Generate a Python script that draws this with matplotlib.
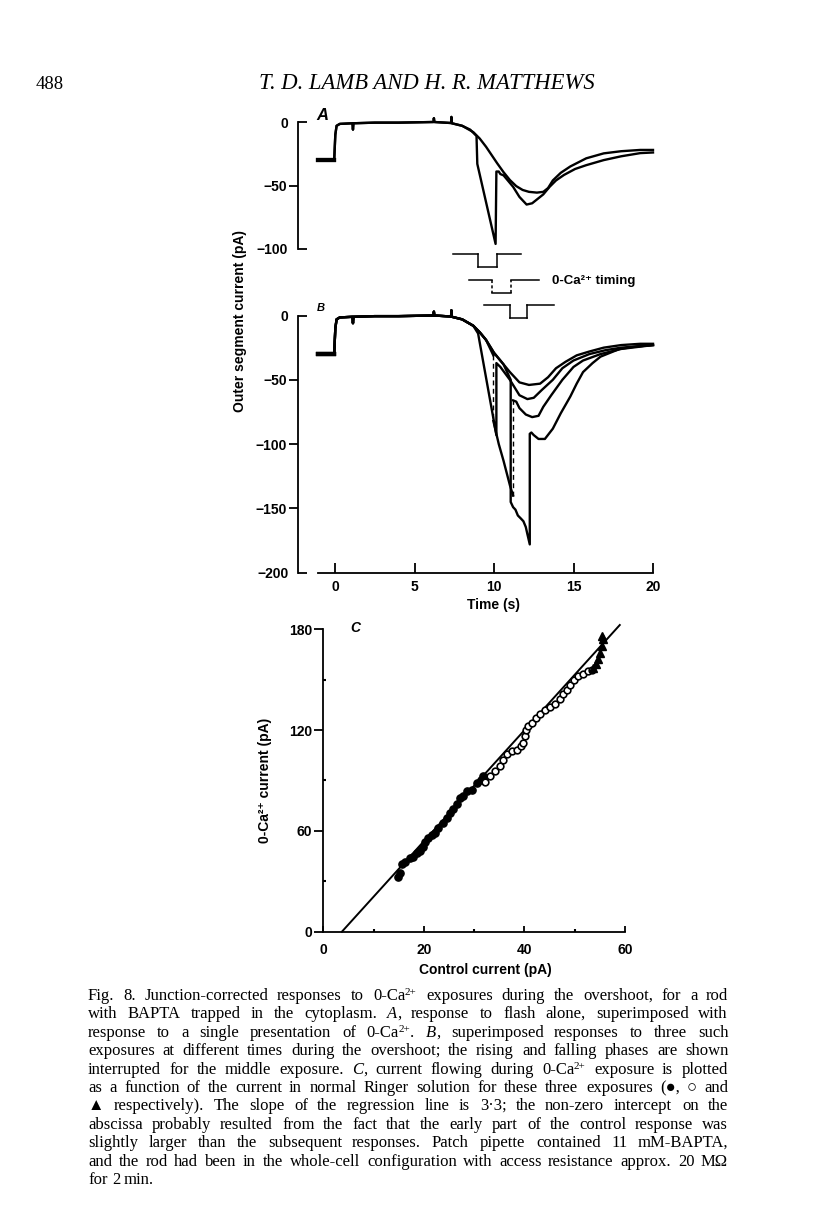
import re
import matplotlib
matplotlib.use("Agg")
import matplotlib.pyplot as plt
from matplotlib.ticker import FixedLocator, FuncFormatter

W, H, DPI = 816, 1219, 100

# ---------------- data ----------------
# common start of every trace in A and B (time s, current pA)
base_t = [-1.1, -0.05, 0.02, 0.1, 0.3, 1.1, 1.13, 1.16, 2.5, 4.0, 6.2, 6.22, 6.25, 7.3, 7.32, 7.35, 8.0]
base_i = [-30, -30, -10, -3, -1.5, -1, -6, -1, -0.5, -0.5, 0, 3, 0, -0.8, 4, -1, -3]

# panel A: flash alone (control) and flash + one 0-Ca exposure
ctrl_a_t = [8.7, 9.1, 9.5, 10.2, 10.6, 11.0, 11.4, 11.8, 12.2, 12.7, 13.1, 13.4, 13.7, 14.2, 14.8, 15.8, 16.9, 18.0, 19.2, 20.0]
ctrl_a_i = [-8, -13, -19.5, -32.5, -39.5, -45.7, -50.5, -53.5, -55, -55.6, -55, -52, -46, -40, -35, -28.6, -24.7, -23, -22, -22]
exp_a_t = [8.5, 8.9, 8.95, 10.1, 10.15, 10.3, 10.4, 10.6, 11.2, 11.6, 12.05, 12.4, 12.7, 13.1, 13.5, 13.9, 14.4, 15.1, 15.8, 16.9, 18.0, 19.2, 20.0]
exp_a_i = [-6, -11, -33, -96, -39, -39, -41, -42, -51, -59, -65, -64, -61, -57, -51, -46, -41.7, -37, -34, -30, -27, -24.5, -24]

# panel B: control plus three exposures
ctrl_b_t = [8.7, 9.1, 9.5, 10.0, 10.6, 11.0, 11.6, 12.2, 12.9, 13.4, 13.9, 14.5, 15.2, 16.0, 16.9, 18.0, 19.2, 20.0]
ctrl_b_i = [-8, -13, -19, -29, -38, -44, -52, -54, -53, -48, -41, -36, -31, -28, -25, -23, -22, -22]
exp1_b_t = [8.7, 9.0, 10.15, 10.15, 10.4, 11.0, 11.6, 12.1, 12.5, 13.0, 13.7, 14.3, 15.0, 16.0, 17.0, 18.0, 20.0]
exp1_b_i = [-8, -14, -93, -37, -40, -50, -62, -65, -64, -58, -50, -41, -35, -30, -27, -25, -23]
exp2_b_t = [8.7, 9.1, 9.5, 9.96, 9.96, 10.3, 10.6, 11.0, 11.2, 11.2, 11.4, 11.6, 12.0, 12.4, 12.8, 13.1, 13.6, 14.3, 15.0, 15.6, 16.7, 18.0, 20.0]
exp2_b_i = [-8, -13, -19, -31, -82, -100, -113, -132, -140, -66, -67, -72, -77, -79, -78, -71, -62, -50, -40, -35, -30, -26, -23]
exp3_b_t = [8.7, 9.1, 9.5, 10.0, 10.6, 11.05, 11.05, 11.2, 11.35, 11.5, 11.7, 11.85, 12.0, 12.1, 12.25, 12.25,
            12.35, 12.5, 12.8, 13.2, 13.7, 14.2, 14.8, 15.2, 15.6, 16.2, 16.7, 17.9, 19.0, 20.0]
exp3_b_i = [-8, -13, -19, -29, -38, -50, -145, -149, -151, -155.5, -158, -160, -164.5, -170, -178, -92,
            -91, -93, -96, -96, -88, -76, -63, -53, -44, -37, -32, -26, -24, -23]
dashed_jumps = [9.96, 11.2]  # middle exposure: rising/falling phases interrupted

# 0-Ca timing bars (s)
pulse_start = [7.4, 8.4, 9.4]
pulse_on = [9.0, 9.9, 11.0]
pulse_off = [10.2, 11.1, 12.1]
pulse_end = [11.7, 12.8, 13.8]

# panel C: 0-Ca current vs control current (pA)
filled_x = [14.95, 15.3, 15.6, 16.3, 17.3, 17.9, 18.6, 19.3, 19.8, 20.3, 20.9, 21.6, 22.3, 22.9, 23.9, 24.6,
            25.2, 25.9, 26.6, 27.2, 27.9, 28.5, 29.5, 30.5, 31.3, 31.8]
filled_y = [32.7, 34.7, 40.3, 41.7, 43.7, 44.7, 46.7, 48.3, 50.3, 53.6, 56, 57.6, 59, 61.6, 64.6, 67.6,
            70.6, 73.2, 75.9, 79.5, 80.5, 83.5, 84.5, 88.5, 90, 92.5]
open_x = [32.2, 33.2, 34.2, 35.2, 35.8, 36.5, 37.5, 38.5, 39.3, 39.8, 40.1, 40.3, 40.8, 41.5, 42.3, 43.1,
          44.1, 45.1, 46.1, 47.1, 47.8, 48.4, 49.1, 49.8, 50.7, 51.7, 52.7, 53.4]
open_y = [89, 92.5, 95.4, 98.4, 102.4, 106, 107.4, 108.3, 110.3, 112.3, 116.3, 119.8, 122.2, 124.2, 127.2, 129.8,
          132.2, 133.8, 135.2, 138.2, 141.2, 143.7, 146.5, 149.7, 152, 153.6, 155, 156]
tri_x = [53.7, 54.3, 54.7, 55.1, 55.4, 55.6, 55.4]
tri_y = [157, 159, 162, 166, 170, 174, 176]
reg_slope, reg_x0, reg_x1 = 3.3, 3.7, 59.0

# *...* italic, ^...^ superscript
caption = [
    "Fig. 8. Junction-corrected responses to 0-Ca^2+^ exposures during the overshoot, for a rod",
    "with BAPTA trapped in the cytoplasm. *A*, response to flash alone, superimposed with",
    "response to a single presentation of 0-Ca^2+^. *B*, superimposed responses to three such",
    "exposures at different times during the overshoot; the rising and falling phases are shown",
    "interrupted for the middle exposure. *C*, current flowing during 0-Ca^2+^ exposure is plotted",
    "as a function of the current in normal Ringer solution for these three exposures (●, ○ and",
    "▲ respectively). The slope of the regression line is 3·3; the non-zero intercept on the",
    "abscissa probably resulted from the fact that the early part of the control response was",
    "slightly larger than the subsequent responses. Patch pipette contained 11 mM-BAPTA,",
    "and the rod had been in the whole-cell configuration with access resistance approx. 20 MΩ",
    "for 2 min.",
]

# ---------------- layout helpers (pixel geometry) ----------------
plt.rcParams["font.family"] = ["Liberation Sans", "DejaVu Sans"]
SERIF = "Liberation Serif"
T0_PX, PX_PER_S = 335.0, 15.9


def px_axes(fig, left, top, right, bottom):
    return fig.add_axes([left / W, 1 - bottom / H, (right - left) / W, (bottom - top) / H])


def tlim(left, right):
    return ((left - T0_PX) / PX_PER_S, (right - T0_PX) / PX_PER_S)


def minus(v, pos=None):
    return f"{v:.0f}".replace("-", "\u2212")


def trace_axes(ax, zero_px, px_per_pa, top, bottom, ymin, mid_ticks, end_ticks):
    ax.set_xlim(*tlim(298, 660))
    ax.set_ylim(-(bottom - zero_px) / px_per_pa, (zero_px - top) / px_per_pa)
    for s in ["top", "right", "bottom"]:
        ax.spines[s].set_visible(False)
    ax.spines["left"].set_bounds(ymin, 0)
    ax.spines["left"].set_linewidth(1.3)
    ax.yaxis.set_major_locator(FixedLocator(mid_ticks))
    ax.yaxis.set_minor_locator(FixedLocator(end_ticks))
    ax.yaxis.set_major_formatter(FuncFormatter(minus))
    ax.yaxis.set_minor_formatter(FuncFormatter(minus))
    ax.tick_params(axis="y", which="major", direction="out", length=6.5, width=1.3, pad=1.5,
                   labelsize=10)
    ax.tick_params(axis="y", which="minor", direction="in", length=6.5, width=1.3, pad=7,
                   labelsize=10)
    for lab in ax.get_yticklabels(which="both"):
        lab.set_fontweight("bold")
    ax.set_xticks([])
    ax.patch.set_visible(False)


def plot_trace(ax, t, i, lw=1.7, dashed=()):
    xs, ys = list(base_t) + list(t), list(base_i) + list(i)
    sx, sy = [xs[0]], [ys[0]]
    for k in range(1, len(xs)):
        if xs[k] == xs[k - 1] and xs[k] in dashed:
            ax.plot([xs[k - 1], xs[k]], [ys[k - 1], ys[k]], color="black", lw=1.0, ls=(0, (3.5, 2.5)))
            sx.append(float("nan"))
            sy.append(float("nan"))
        sx.append(xs[k])
        sy.append(ys[k])
    ax.plot(sx, sy, color="black", lw=lw, solid_joinstyle="round")
    # the noisy dark-current baseline before the flash reads as a heavier line
    ax.plot(base_t[:2], base_i[:2], color="black", lw=3.0)


fig = plt.figure(figsize=(W / DPI, H / DPI), dpi=DPI)

# ---------------- panel A ----------------
ax_a = px_axes(fig, 298, 105, 660, 255)
trace_axes(ax_a, 122, 1.27, 105, 255, -100, [-50], [0, -100])
plot_trace(ax_a, ctrl_a_t, ctrl_a_i)
plot_trace(ax_a, exp_a_t, exp_a_i)
fig.text(316 / W, 1 - 120 / H, "A", fontsize=12, fontweight="bold", style="italic")

# ---------------- timing bars ----------------
ax_tm = px_axes(fig, 298, 245, 660, 325)
ax_tm.set_xlim(*tlim(298, 660))
ax_tm.set_ylim(80, 0)
ax_tm.axis("off")
row_hi = [9, 35, 60]
for k in range(3):
    hi, lo = row_hi[k], row_hi[k] + 13
    ls = (0, (2, 1.5)) if k == 1 else "-"
    ax_tm.plot([pulse_start[k], pulse_on[k]], [hi, hi], color="black", lw=1.1)
    ax_tm.plot([pulse_on[k], pulse_on[k]], [hi, lo], color="black", lw=1.1, ls=ls)
    ax_tm.plot([pulse_on[k], pulse_off[k]], [lo, lo], color="black", lw=1.1)
    ax_tm.plot([pulse_off[k], pulse_off[k]], [lo, hi], color="black", lw=1.1, ls=ls)
    ax_tm.plot([pulse_off[k], pulse_end[k]], [hi, hi], color="black", lw=1.1)
fig.text(552 / W, 1 - 281 / H, "0-Ca²⁺ timing", fontsize=9.5, fontweight="bold", va="center")

# ---------------- panel B ----------------
ax_b = px_axes(fig, 298, 300, 660, 580)
trace_axes(ax_b, 315.5, 1.286, 300, 580, -200, [-50, -100, -150], [0, -200])
ax_b.spines["bottom"].set_visible(True)
ax_b.spines["bottom"].set_position(("data", -200))
ax_b.spines["bottom"].set_bounds(-1.05, 20)
ax_b.spines["bottom"].set_linewidth(1.3)
ax_b.set_xticks([0, 5, 10, 15, 20])
ax_b.tick_params(axis="x", direction="in", length=7, width=1.3, pad=5, labelsize=10)
for lab in ax_b.get_xticklabels():
    lab.set_fontweight("bold")
plot_trace(ax_b, ctrl_b_t, ctrl_b_i)
plot_trace(ax_b, exp1_b_t, exp1_b_i)
plot_trace(ax_b, exp2_b_t, exp2_b_i, dashed=dashed_jumps)
plot_trace(ax_b, exp3_b_t, exp3_b_i)
fig.text(317 / W, 1 - 311 / H, "B", fontsize=8, fontweight="bold", style="italic")
fig.text(494 / W, 1 - 605 / H, "Time (s)", fontsize=10, fontweight="bold", ha="center", va="center")
fig.text(240 / W, 1 - 321 / H, "Outer segment current (pA)", fontsize=10, fontweight="bold",
         rotation=90, ha="center", va="center")

# ---------------- panel C ----------------
ax_c = px_axes(fig, 323.3, 620, 630, 931.7)
ax_c.set_xlim(0, (630 - 323.3) / 5.025)
ax_c.set_ylim(0, (931.7 - 620) / 1.6806)
for s in ["top", "right"]:
    ax_c.spines[s].set_visible(False)
ax_c.spines["left"].set_bounds(0, 180)
ax_c.spines["bottom"].set_bounds(0, 60)
for s in ["left", "bottom"]:
    ax_c.spines[s].set_linewidth(1.3)
ax_c.set_yticks([0, 60, 120, 180])
ax_c.set_yticks([30, 90, 150], minor=True)
ax_c.set_xticks([0, 20, 40, 60])
ax_c.set_xticks([10, 30, 50], minor=True)
ax_c.tick_params(axis="y", which="major", direction="out", length=6.5, width=1.3, pad=1.5, labelsize=10)
ax_c.tick_params(axis="y", which="minor", direction="in", length=2, width=1.5)
ax_c.tick_params(axis="x", which="major", direction="in", length=4, width=1.3, pad=8, labelsize=10)
ax_c.tick_params(axis="x", which="minor", direction="in", length=2, width=1.5)
for lab in ax_c.get_xticklabels() + ax_c.get_yticklabels():
    lab.set_fontweight("bold")
ax_c.patch.set_visible(False)
ax_c.plot([reg_x0, reg_x1], [0, reg_slope * (reg_x1 - reg_x0)], color="black", lw=1.4, clip_on=False)
ax_c.plot(filled_x, filled_y, "o", ms=5.2, mfc="black", mec="black", clip_on=False)
ax_c.plot(open_x, open_y, "o", ms=4.8, mfc="white", mec="black", mew=1.2, clip_on=False)
ax_c.plot(tri_x, tri_y, "^", ms=5.5, mfc="black", mec="black", clip_on=False)
fig.text(350 / W, 1 - 632 / H, "C", fontsize=10, fontweight="bold", style="italic")
fig.text(485 / W, 1 - 970 / H, "Control current (pA)", fontsize=10, fontweight="bold",
         ha="center", va="center")
fig.text(265 / W, 1 - 780 / H, "0-Ca²⁺ current (pA)", fontsize=10, fontweight="bold",
         rotation=90, ha="center", va="center")

# ---------------- page header ----------------
fig.text(36 / W, 1 - 89 / H, "488", fontsize=13.5, family=SERIF, va="baseline")
fig.text(427 / W, 1 - 89 / H, "T. D. LAMB AND H. R. MATTHEWS", fontsize=16.3, family=SERIF,
         style="italic", ha="center", va="baseline")

# ---------------- justified caption ----------------
renderer = fig.canvas.get_renderer()
CAP_L, CAP_R, CAP_Y0, CAP_DY, CAP_SIZE = 88, 728, 1000, 18.4, 12


def pieces(word):
    out = []
    for m in re.finditer(r"\*([^*]+)\*|\^([^^]+)\^|([^*^]+)", word):
        if m.group(1):
            out.append((m.group(1), "italic"))
        elif m.group(2):
            out.append((m.group(2), "sup"))
        else:
            out.append((m.group(3), "normal"))
    return out


def piece_props(style, size):
    if style == "sup":
        return dict(fontsize=8, style="normal"), 5.0
    return dict(fontsize=size, style=style), 0.0


def width_of(txt, style, size):
    props, _ = piece_props(style, size)
    t = fig.text(0, 0, txt, family=SERIF, **props)
    w = t.get_window_extent(renderer).width
    t.remove()
    return w


def word_width(word, size):
    return sum(width_of(p, st, size) for p, st in pieces(word))


size = CAP_SIZE
for k, ln in enumerate(caption):
    words = ln.split(" ")
    widths = [word_width(w, size) for w in words]
    if k < len(caption) - 1 and len(words) > 1:
        gap = (CAP_R - CAP_L - sum(widths)) / (len(words) - 1)
    else:
        gap = size * 0.25 * DPI / 72
    x = CAP_L
    y = round(CAP_Y0 + k * CAP_DY)
    for w, ww in zip(words, widths):
        xx = x
        for p, st in pieces(w):
            props, rise = piece_props(st, size)
            fig.text(round(xx) / W, 1 - (y - rise) / H, p, family=SERIF, va="baseline", **props)
            xx += width_of(p, st, size)
        x += ww + gap

fig.savefig("out.png", dpi=DPI)
